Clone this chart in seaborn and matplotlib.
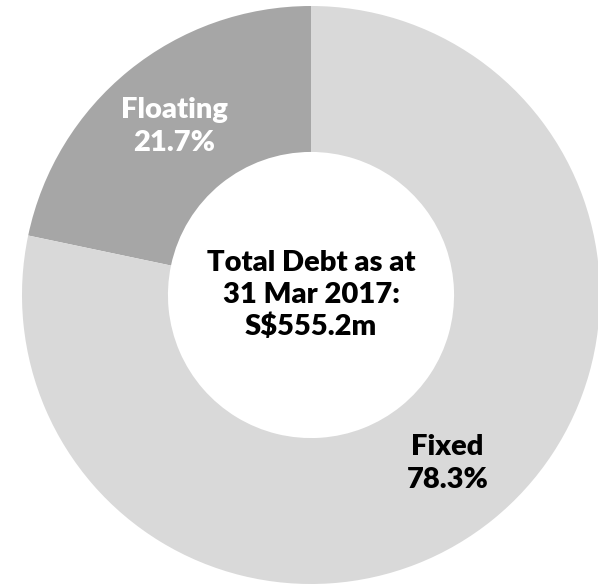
import matplotlib
matplotlib.use("Agg")
import matplotlib.pyplot as plt
import seaborn as sns

categories = ["Floating", "Fixed"]
shares = [21.7, 78.3]
label_texts = ["Floating\n21.7%", "Fixed\n78.3%"]
colors = ["#A6A6A6", "#D9D9D9"]
label_colors = ["white", "black"]
center_text = "Total Debt as at\n31 Mar 2017:\nS$555.2m"

sns.set_theme(style="white")
plt.rcParams['font.family'] = ['Lato', 'DejaVu Sans']

W, H = 598, 586
fig = plt.figure(figsize=(W / 100, H / 100), dpi=100)
ax = fig.add_axes([0, 0, 1, 1])
cx, cy, R = 311, 295, 289

wedges, texts = ax.pie(
    shares, labels=label_texts, colors=colors, startangle=90, counterclock=True,
    radius=1.0, labeldistance=0.75,
    wedgeprops=dict(width=0.505, edgecolor="none", linewidth=0),
    textprops=dict(ha="center", va="center", fontsize=21, fontweight="heavy", linespacing=1.35),
)
for t, c in zip(texts, label_colors):
    t.set_color(c)

ax.text(0, 0, center_text, ha="center", va="center", fontsize=21,
        fontweight="heavy", color="black", linespacing=1.25)

ax.set_xlim(-cx / R, (W - cx) / R)
ax.set_ylim(-(H - cy) / R, cy / R)
ax.set_aspect("auto")
ax.axis("off")
fig.savefig("out.png", dpi=100)
